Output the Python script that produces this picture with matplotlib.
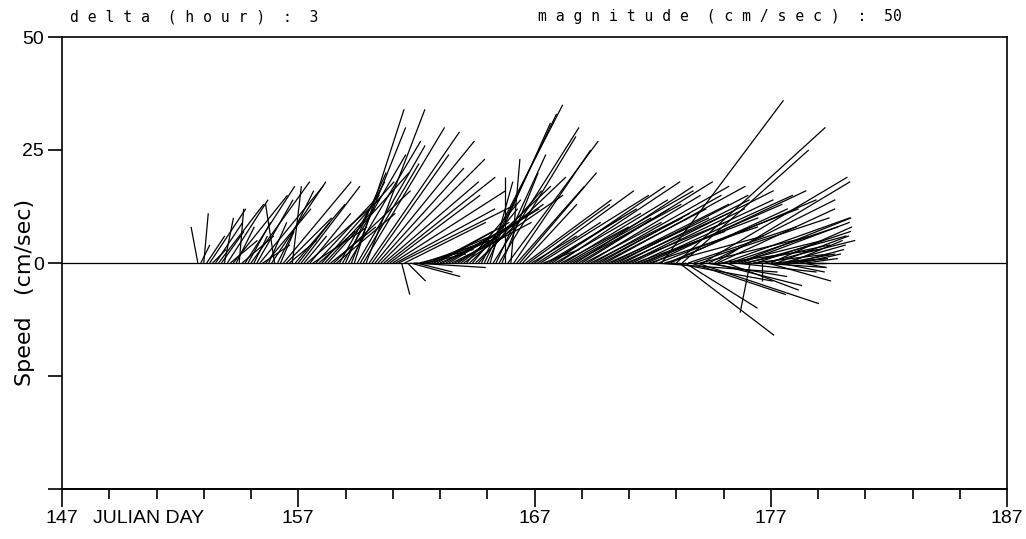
import numpy as np
import matplotlib
matplotlib.use("Agg")
import matplotlib.pyplot as plt
from matplotlib.collections import LineCollection

# first record and sampling interval (3 hours)
t_first = 152.75
delta_hours = 3

# east (u) and north (v) components, cm/sec, one row per day (8 records)
u_speed = [
    -1.5, 2, 1, 4, 8, 3, 6, 10,
    5, 2, 9, 6, 12, 4, 1, 7,
    11, 5, 13, 3, 8, 14, 6, 10,
    4, 12, -2, 8, 3, 15, 10, 6,
    2, 11, 7, 13, 5, 16, 9, 12,
    14, 8, 16, 11, 18, 10, 17, 13,
    10, 14, 9, 16, 12, 11, 15, 13,
    18, 13, 20, 17, 22, 19, 23, 21,
    24, 20, 25, 22, 26, 1.8, 18, 4,
    11, 16, 8, 12, 15, 9, 14, 10,
    13, 16, 11, 18, 14, 20, 12, 17,
    19, 15, 22, 12, 18, 10, 20, 14,
    18, 16, 14, 5, 19, 11, 17, 8,
    0, 20, 2, 17, 15, 17, 12, 19,
    18, 10, 22, 14, 24, 8, 20, 16,
    25, 19, 27, 15, 23, 28, 18, 24,
    26, 20, 29, 17, 25, 22, 30, 19,
    27, 23, 31, 18, 26, 21, 29, 24,
    28, 22, 32, 25, 20, 30, 26, 33,
    30, 24, 34, 27, 31, 27, 22, 33,
    26, 22, 33, 21, 28, 16, 24, 21,
    30, 27, 25, 32, 18, 28, 20, 30,
    26, 22, 28, 16, 24, 20, 18, 25,
    24, 19, 22, -2.2, 17, 21, 15, 0,
    20, 14, 18, 12, 16, 10, 14, 11,
    12, 8, 11, 6, 9, 5, 7, 4,
]
v_speed = [
    8, 4, 11, 6, 12, 3, 9, 13,
    7, 10, 14, 5, 15, 8, 12, 6,
    17, 9, 18, 6, 14, 17, 4, 12,
    9, 18, 13, 16, 7, 18, 10, 5,
    17, 13, 9, 17, 6, 14, 11, 8,
    15, 7, 18, 12, 20, 8, 16, 11,
    18, 24, 20, 27, 30, 34, 26, 22,
    30, 34, 29, 24, 27, 21, 23, 18,
    19, 15, 16, 12, 13, -7, 9, -4,
    -3, -1, -2, 3, 5, 2, 6, 4,
    7, 9, 5, 10, 8, 12, 6, 9,
    13, 11, 15, 14, 17, 12, 19, 16,
    35, 33, 31, 18, 30, 24, 28, 20,
    19, 27, 23, 25, 17, 20, 13, 14,
    13, 6, 16, 9, 15, 3, 12, 10,
    17, 11, 18, 8, 14, 16, 10, 13,
    17, 12, 18, 9, 15, 11, 17, 10,
    15, 12, 17, 8, 13, 10, 15, 11,
    14, 9, 16, 12, 7, 14, 10, 15,
    13, 8, 16, -2, 12, 36, 6, 14,
    12, -4, 30, -16, 25, -10, 8, -7,
    10, -9, 6, 19, -3, 14, -5, 18,
    12, 3, 10, -6, 8, 5, -2, 10,
    9, 4, 6, -11, 2, 7, -1, -4,
    5, -4, 8, 1, 6, -2, 4, 2,
    5, 1, 3, 0, 2, -1, 1, 0,
]

day_min, day_max = 147, 187
speed_min, speed_max = -50, 50
major_days = [147, 157, 167, 177, 187]
minor_days = list(range(147, 188, 2))
y_ticks = [50, 25, 0, -25, -50]
y_labels = ["50", "25", "0", "", ""]

W, H = 1026, 539
fig = plt.figure(figsize=(W / 100, H / 100), dpi=100)
left, right, top, bottom = 62, 1007, 37, 489
ax = fig.add_axes([left / W, 1 - bottom / H, (right - left) / W, (bottom - top) / H])
ax.set_xlim(day_min, day_max)
ax.set_ylim(speed_min, speed_max)

# same pixel scale for u as for v
px_day = (right - left) / (day_max - day_min)
px_cm = (bottom - top) / (speed_max - speed_min)
k = px_cm / px_day

t = t_first + np.arange(len(u_speed)) * delta_hours / 24.0
u = np.array(u_speed)
v = np.array(v_speed)
segs = [[(ti, 0), (ti + ui * k, vi)] for ti, ui, vi in zip(t, u, v)]
ax.add_collection(LineCollection(segs, colors="black", linewidths=0.9))
ax.axhline(0, color="black", lw=0.9)

for s in ["top", "right", "left"]:
    ax.spines[s].set_linewidth(1.2)
ax.spines["bottom"].set_linewidth(1.4)

ax.set_xticks(major_days)
ax.set_xticklabels([])
ax.set_xticks(minor_days, minor=True)
ax.tick_params(axis="x", which="major", direction="out", length=13, width=1.2)
ax.tick_params(axis="x", which="minor", direction="out", length=7, width=1.2)
ax.set_yticks(y_ticks)
ax.set_yticklabels(y_labels, fontsize=14, family="Liberation Sans")
ax.tick_params(axis="y", direction="out", length=10, width=1.2, pad=3)

lab = dict(fontsize=14, family="Liberation Sans", ha="center", va="top")
for d in major_days:
    ax.text(d, speed_min - 4.6, str(d), transform=ax.transData, **lab)
ax.text(148.3, speed_min - 4.6, "JULIAN DAY", fontsize=14, family="Liberation Sans",
        ha="left", va="top")

fig.text(25 / W, 1 - 292 / H, "Speed   (cm/sec)", rotation=90, fontsize=16,
         family="DejaVu Sans", ha="center", va="center")

fig.text(70 / W, 1 - 17 / H, "d e l t a  ( h o u r )  :  3", fontsize=10.6,
         family="DejaVu Sans Mono", ha="left", va="center")
fig.text(538 / W, 1 - 17 / H, "m a g n i t u d e  ( c m / s e c )  :  50",
         fontsize=10.6, family="DejaVu Sans Mono", ha="left", va="center")

fig.savefig("out.png", dpi=100)
